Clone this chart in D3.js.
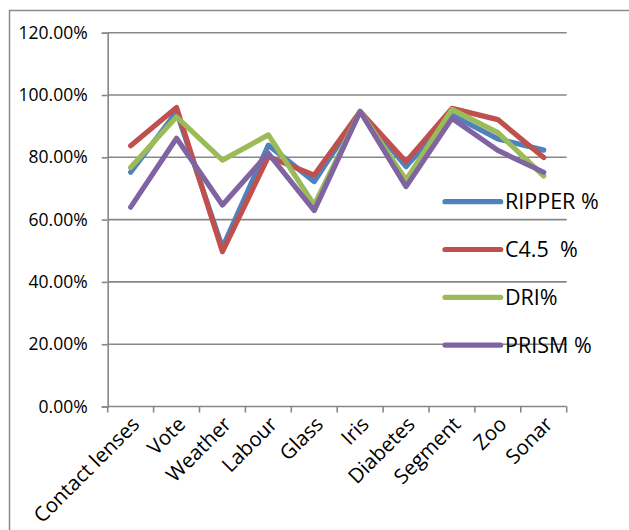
<!DOCTYPE html>
<html>
<head>
<meta charset="utf-8">
<script src="https://cdn.jsdelivr.net/npm/d3@7"></script>
<style>
  html, body { margin: 0; padding: 0; background: #fff; }
  svg { display: block; }
  text { font-family: "Open Sans", "Noto Sans", sans-serif; fill: #000; }
</style>
</head>
<body>
<svg id="chart" width="629" height="530"></svg>
<script>
// Classification accuracy per dataset for four rule learners
const categories = ["Contact lenses", "Vote", "Weather", "Labour", "Glass", "Iris", "Diabetes", "Segment", "Zoo", "Sonar"];
const seriesNames = ["RIPPER %", "C4.5  %", "DRI%", "PRISM %"];
const ripper = [0.752, 0.946, 0.51, 0.839, 0.722, 0.947, 0.770, 0.936, 0.859, 0.823];
const c45    = [0.837, 0.960, 0.497, 0.802, 0.743, 0.947, 0.786, 0.957, 0.921, 0.799];
const dri    = [0.767, 0.930, 0.791, 0.872, 0.647, 0.947, 0.727, 0.954, 0.879, 0.740];
const prism  = [0.640, 0.861, 0.647, 0.813, 0.629, 0.947, 0.706, 0.925, 0.822, 0.752];
const yTicks = [0, 0.2, 0.4, 0.6, 0.8, 1.0, 1.2];
const colors = ["#4F81BD", "#C0504D", "#9BBB59", "#8064A2"];

const seriesValues = [ripper, c45, dri, prism];
const svg = d3.select("#chart");

const plot = { left: 107.7, right: 566.7, top: 32.7, bottom: 406.5 };

const x = d3.scaleBand().domain(categories).range([plot.left, plot.right]);
const y = d3.scaleLinear().domain([0, 1.2]).range([plot.bottom, plot.top]);
const fmt = d3.format(".2%");

// outer chart frame
svg.append("rect")
  .attr("x", 9.5).attr("y", 10.5)
  .attr("width", 640).attr("height", 540)
  .attr("fill", "none").attr("stroke", "#8a8a8a").attr("stroke-width", 1.5);

// horizontal gridlines
svg.append("g").selectAll("line")
  .data(yTicks.filter(d => d > 0))
  .join("line")
  .attr("x1", plot.left).attr("x2", plot.right)
  .attr("y1", d => y(d)).attr("y2", d => y(d))
  .attr("stroke", "#878787").attr("stroke-width", 1.6);

// value axis
const yAxis = svg.append("g")
  .attr("transform", `translate(${plot.left},0)`)
  .call(d3.axisLeft(y).tickValues(yTicks).tickFormat(fmt).tickSize(6).tickPadding(14));
yAxis.select(".domain").attr("stroke", "#878787").attr("stroke-width", 1.6);
yAxis.selectAll(".tick line").attr("stroke", "#878787").attr("stroke-width", 1.6);
yAxis.selectAll(".tick text")
  .style("font-size", "17.5px")
  .style("font-family", "'Open Sans', sans-serif")
  .attr("fill", "#000");

// category axis line and boundary ticks
const xAxis = svg.append("g");
xAxis.append("line")
  .attr("x1", plot.left).attr("x2", plot.right)
  .attr("y1", plot.bottom).attr("y2", plot.bottom)
  .attr("stroke", "#878787").attr("stroke-width", 1.6);
const boundaries = categories.map(c => x(c)).concat([plot.right]);
xAxis.selectAll("line.tick")
  .data(boundaries)
  .join("line")
  .attr("class", "tick")
  .attr("x1", d => d).attr("x2", d => d)
  .attr("y1", plot.bottom).attr("y2", plot.bottom + 6)
  .attr("stroke", "#878787").attr("stroke-width", 1.6);
xAxis.selectAll("text")
  .data(categories)
  .join("text")
  .attr("transform", d => `translate(${x(d) + x.bandwidth() / 2 + 5},${plot.bottom + 14}) rotate(-45)`)
  .attr("text-anchor", "end")
  .attr("dy", "0.35em")
  .style("font-size", "20.5px")
  .text(d => d);

// series lines
const line = d3.line()
  .x((d, i) => x(categories[i]) + x.bandwidth() / 2)
  .y(d => y(d));

svg.append("g").selectAll("path")
  .data(seriesValues)
  .join("path")
  .attr("d", d => line(d))
  .attr("fill", "none")
  .attr("stroke", (d, i) => colors[i])
  .attr("stroke-width", 5.2)
  .attr("stroke-linejoin", "round")
  .attr("stroke-linecap", "round");

// legend
const legend = svg.append("g").selectAll("g")
  .data(seriesNames)
  .join("g")
  .attr("transform", (d, i) => `translate(445,${201.7 + i * 47.8})`);
legend.append("line")
  .attr("x1", 0).attr("x2", 55.7)
  .attr("stroke", (d, i) => colors[i])
  .attr("stroke-width", 5.2)
  .attr("stroke-linecap", "round");
legend.append("text")
  .attr("x", 60)
  .attr("dy", "0.35em")
  .style("font-size", "21.5px")
  .style("white-space", "pre")
  .attr("xml:space", "preserve")
  .text(d => d);
</script>
</body>
</html>
